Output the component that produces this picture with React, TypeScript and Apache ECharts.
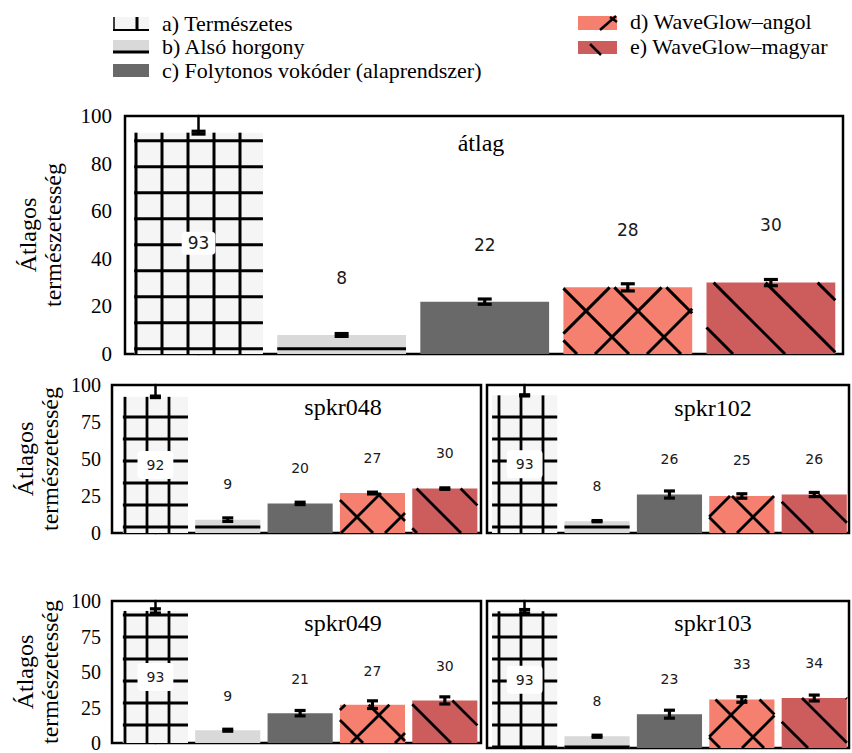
import React, { useEffect, useRef } from 'react';
import * as echarts from 'echarts';

// ---------- data ----------
const categories = [
  'a) Természetes',
  'b) Alsó horgony',
  'c) Folytonos vokóder (alaprendszer)',
  'd) WaveGlow–angol',
  'e) WaveGlow–magyar',
];
const panelTitles = ['átlag', 'spkr048', 'spkr102', 'spkr049', 'spkr103'];

const atlagValues = [93, 8, 22, 28, 30];
const atlagErrors = [0.6, 0.6, 1.1, 1.5, 1.3];
const spkr048Values = [92, 9, 20, 27, 30];
const spkr048Errors = [0.5, 1.2, 0.8, 0.6, 0.5];
const spkr102Values = [93, 8, 26, 25, 26];
const spkr102Errors = [0.4, 0.4, 2.4, 1.5, 1.4];
const spkr049Values = [93, 9, 21, 27, 30];
const spkr049Errors = [1.5, 0.7, 1.9, 2.7, 2.5];
const spkr103Values = [93, 8, 23, 33, 34];
const spkr103Errors = [1.2, 0.7, 2.7, 1.9, 2.0];

const yTicksTop = [0, 20, 40, 60, 80, 100];
const yTicksSmall = [0, 25, 50, 75, 100];
const yAxisName = 'Átlagos\ntermészetesség';

// ---------- styles ----------
const COLORS = ['#f5f5f5', '#d9d9d9', '#696969', '#f5806f', '#cd5c5c'];
const SERIF = 'Liberation Serif';
const SANS = 'DejaVu Sans';

type Hatch = {
  S: number; hx0: number; hy0: number; P: number; cBack: number; cFwd: number;
  lw: number; capW: number; errW: number; font: number; pad: number[];
};
const hatchBig: Hatch = { S: 26, hx0: 136, hy0: 348.7, P: 52, cBack: 327, cFwd: 949, lw: 3, capW: 14, errW: 3.2, font: 17, pad: [3, 6] };
const hatchSmall: Hatch = { S: 22, hx0: 125, hy0: 527, P: 44, cBack: 236, cFwd: 1270, lw: 2.8, capW: 11, errW: 3.2, font: 14, pad: [7, 9] };

const panels = [
  { title: panelTitles[0], values: atlagValues, errors: atlagErrors, ticks: yTicksTop, grid: { left: 125, top: 116, width: 718, height: 238 }, xMin: -0.514, xMax: 4.504, showY: true, h: hatchBig, titleX: 481, titleY: 143, nameGap: 60, tickFont: 21, tickLen: 7 },
  { title: panelTitles[1], values: spkr048Values, errors: spkr048Errors, ticks: yTicksSmall, grid: { left: 112, top: 385, width: 369, height: 148 }, xMin: -0.6, xMax: 4.5, showY: true, h: hatchSmall, titleX: 343, titleY: 407, nameGap: 50, tickFont: 20, tickLen: 5 },
  { title: panelTitles[2], values: spkr102Values, errors: spkr102Errors, ticks: yTicksSmall, grid: { left: 487, top: 385, width: 362, height: 148 }, xMin: -0.52, xMax: 4.48, showY: false, h: hatchSmall, titleX: 713, titleY: 408, nameGap: 50, tickFont: 20, tickLen: 5 },
  { title: panelTitles[3], values: spkr049Values, errors: spkr049Errors, ticks: yTicksSmall, grid: { left: 112, top: 601, width: 369, height: 147 }, xMin: -0.6, xMax: 4.5, showY: true, h: hatchSmall, titleX: 343, titleY: 623, nameGap: 50, tickFont: 20, tickLen: 5 },
  { title: panelTitles[4], values: spkr103Values, errors: spkr103Errors, ticks: yTicksSmall, grid: { left: 487, top: 601, width: 362, height: 147 }, xMin: -0.52, xMax: 4.48, showY: false, h: hatchSmall, titleX: 713, titleY: 623, nameGap: 50, tickFont: 20, tickLen: 5 },
];

function makeRenderItem(h: Hatch) {
  return (_params: any, api: any) => {
    const i = api.value(0);
    const v = api.value(1);
    const e = api.value(2);
    const p0 = api.coord([i, 0]);
    const p1 = api.coord([i, v]);
    const bw = api.size([0.9, 0])[0];
    const x0 = p0[0] - bw / 2;
    const x1 = p0[0] + bw / 2;
    const yT = p1[1];
    const yB = p0[1];
    const children: any[] = [];
    const line = (ax: number, ay: number, bx: number, by: number, w: number) =>
      children.push({ type: 'line', shape: { x1: ax, y1: ay, x2: bx, y2: by }, style: { stroke: '#000', lineWidth: w } });
    const vert = () => {
      const k = Math.ceil((x0 - h.hx0) / h.S);
      for (let x = h.hx0 + k * h.S; x <= x1; x += h.S) line(x, yT, x, yB, h.lw);
    };
    const horiz = () => {
      const k = Math.ceil((yT - h.hy0) / h.S);
      for (let y = h.hy0 + k * h.S; y <= yB; y += h.S) line(x0, y, x1, y, h.lw);
    };
    const back = () => {
      const cmin = x0 - yB;
      const cmax = x1 - yT;
      const k = Math.ceil((cmin - h.cBack) / h.P);
      for (let c = h.cBack + k * h.P; c <= cmax; c += h.P) {
        const ylo = Math.max(yT, x0 - c);
        const yhi = Math.min(yB, x1 - c);
        if (yhi > ylo) line(ylo + c, ylo, yhi + c, yhi, h.lw);
      }
    };
    const fwd = () => {
      const cmin = x0 + yT;
      const cmax = x1 + yB;
      const k = Math.ceil((cmin - h.cFwd) / h.P);
      for (let c = h.cFwd + k * h.P; c <= cmax; c += h.P) {
        const ylo = Math.max(yT, c - x1);
        const yhi = Math.min(yB, c - x0);
        if (yhi > ylo) line(c - ylo, ylo, c - yhi, yhi, h.lw);
      }
    };
    if (i === 0) { vert(); horiz(); }
    else if (i === 1) horiz();
    else if (i === 3) { back(); fwd(); }
    else if (i === 4) back();

    const eTop = api.coord([i, v + e])[1];
    const eBot = api.coord([i, v - e])[1];
    const cx = p0[0];
    line(cx, eTop, cx, eBot, h.errW);
    line(cx - h.capW / 2, eTop, cx + h.capW / 2, eTop, h.errW);
    line(cx - h.capW / 2, eBot, cx + h.capW / 2, eBot, h.errW);

    const ly = i === 0 ? api.coord([i, v / 2])[1] : api.coord([i, v + 24])[1];
    const textStyle: any = {
      text: String(v), fill: '#1a1a1a', fontSize: h.font, fontFamily: SANS,
      align: 'center', verticalAlign: 'middle', textAlign: 'center', textVerticalAlign: 'middle',
    };
    if (i === 0) {
      textStyle.backgroundColor = '#ffffff';
      textStyle.padding = h.pad;
      textStyle.borderRadius = 4;
    }
    children.push({ type: 'text', x: cx, y: ly, style: textStyle, z2: 10 });
    return { type: 'group', children };
  };
}

function legendGraphics(): any[] {
  const g: any[] = [];
  const txt = (x: number, y: number, text: string) => ({
    type: 'text', x, y,
    style: { text, fill: '#000', fontSize: 22, fontFamily: SERIF, align: 'left', verticalAlign: 'middle', textAlign: 'left', textVerticalAlign: 'middle' },
  });
  const ln = (a: number, b: number, c: number, d: number, w: number) => ({ type: 'line', shape: { x1: a, y1: b, x2: c, y2: d }, style: { stroke: '#000', lineWidth: w } });
  const rect = (x: number, y: number, w: number, hh: number, fill: string) => ({ type: 'rect', shape: { x, y, width: w, height: hh }, style: { fill } });
  // a
  g.push(rect(113, 17, 36, 13, COLORS[0]));
  g.push(ln(114, 17, 114, 30, 1.5));
  g.push(ln(137, 17, 137, 30, 3));
  g.push(ln(113, 30, 149, 30, 2));
  g.push(txt(162, 23.5, categories[0]));
  // b
  g.push(rect(113, 40, 36, 13, COLORS[1]));
  g.push(ln(113, 52, 149, 52, 3));
  g.push(txt(162, 46.5, categories[1]));
  // c
  g.push(rect(113, 64, 36, 13, COLORS[2]));
  g.push(txt(162, 70.5, categories[2]));
  // d
  g.push(rect(578, 16, 39, 14, COLORS[3]));
  g.push(ln(600, 30, 616, 16, 2.5));
  g.push(ln(610, 17, 617, 22, 2.5));
  g.push(txt(630, 21.7, categories[3]));
  // e
  g.push(rect(578, 41, 39, 13, COLORS[4]));
  g.push(ln(590, 44, 601, 55, 2.5));
  g.push(txt(630, 46.5, categories[4]));
  return g;
}

export default function App() {
  const ref = useRef<HTMLDivElement>(null);
  useEffect(() => {
    if (!ref.current) return;
    const chart = echarts.init(ref.current, undefined, { renderer: 'svg' });
    const grids: any[] = [];
    const xAxes: any[] = [];
    const yAxes: any[] = [];
    const series: any[] = [];
    const graphic: any[] = legendGraphics();
    panels.forEach((p, k) => {
      grids.push({ ...p.grid, show: true, borderColor: '#000', borderWidth: 2.5, backgroundColor: 'transparent', containLabel: false });
      xAxes.push({
        type: 'value', gridIndex: k, min: p.xMin, max: p.xMax,
        axisLine: { show: false }, axisTick: { show: false }, axisLabel: { show: false }, splitLine: { show: false },
      });
      yAxes.push({
        type: 'value', gridIndex: k, min: p.ticks[0], max: p.ticks[p.ticks.length - 1], interval: p.ticks[1] - p.ticks[0],
        axisLine: { show: true, lineStyle: { color: '#000', width: 2.5 } },
        axisTick: { show: p.showY, length: p.tickLen, lineStyle: { color: '#000', width: 2 } },
        axisLabel: { show: p.showY, color: '#000', fontSize: p.tickFont, fontFamily: SERIF, margin: p.tickLen + 6 },
        splitLine: { show: false },
        name: p.showY ? yAxisName : '',
        nameLocation: 'middle', nameRotate: 90, nameGap: p.nameGap,
        nameTextStyle: { color: '#000', fontSize: 24, fontFamily: SERIF, lineHeight: 25, align: 'center' },
      });
      series.push({
        type: 'bar', name: p.title, xAxisIndex: k, yAxisIndex: k, barWidth: '90%', z: 2,
        data: p.values.map((v, i) => ({ value: [i, v], itemStyle: { color: COLORS[i] } })),
        animation: false,
      });
      series.push({
        type: 'custom', name: p.title + ' hiba', xAxisIndex: k, yAxisIndex: k, z: 3, clip: false,
        encode: { x: 0, y: 1 },
        data: p.values.map((v, i) => [i, v, p.errors[i]]),
        renderItem: makeRenderItem(p.h),
        animation: false,
      });
      graphic.push({
        type: 'text', x: p.titleX, y: p.titleY, z: 20,
        style: { text: p.title, fill: '#000', fontSize: 24, fontFamily: SERIF, align: 'center', verticalAlign: 'middle', textAlign: 'center', textVerticalAlign: 'middle' },
      });
    });
    chart.setOption({
      animation: false,
      backgroundColor: '#ffffff',
      grid: grids,
      xAxis: xAxes,
      yAxis: yAxes,
      series,
      graphic,
    });
    return () => chart.dispose();
  }, []);
  return <div ref={ref} style={{ position: 'absolute', left: 0, top: 0, width: 852, height: 753 }} />;
}
